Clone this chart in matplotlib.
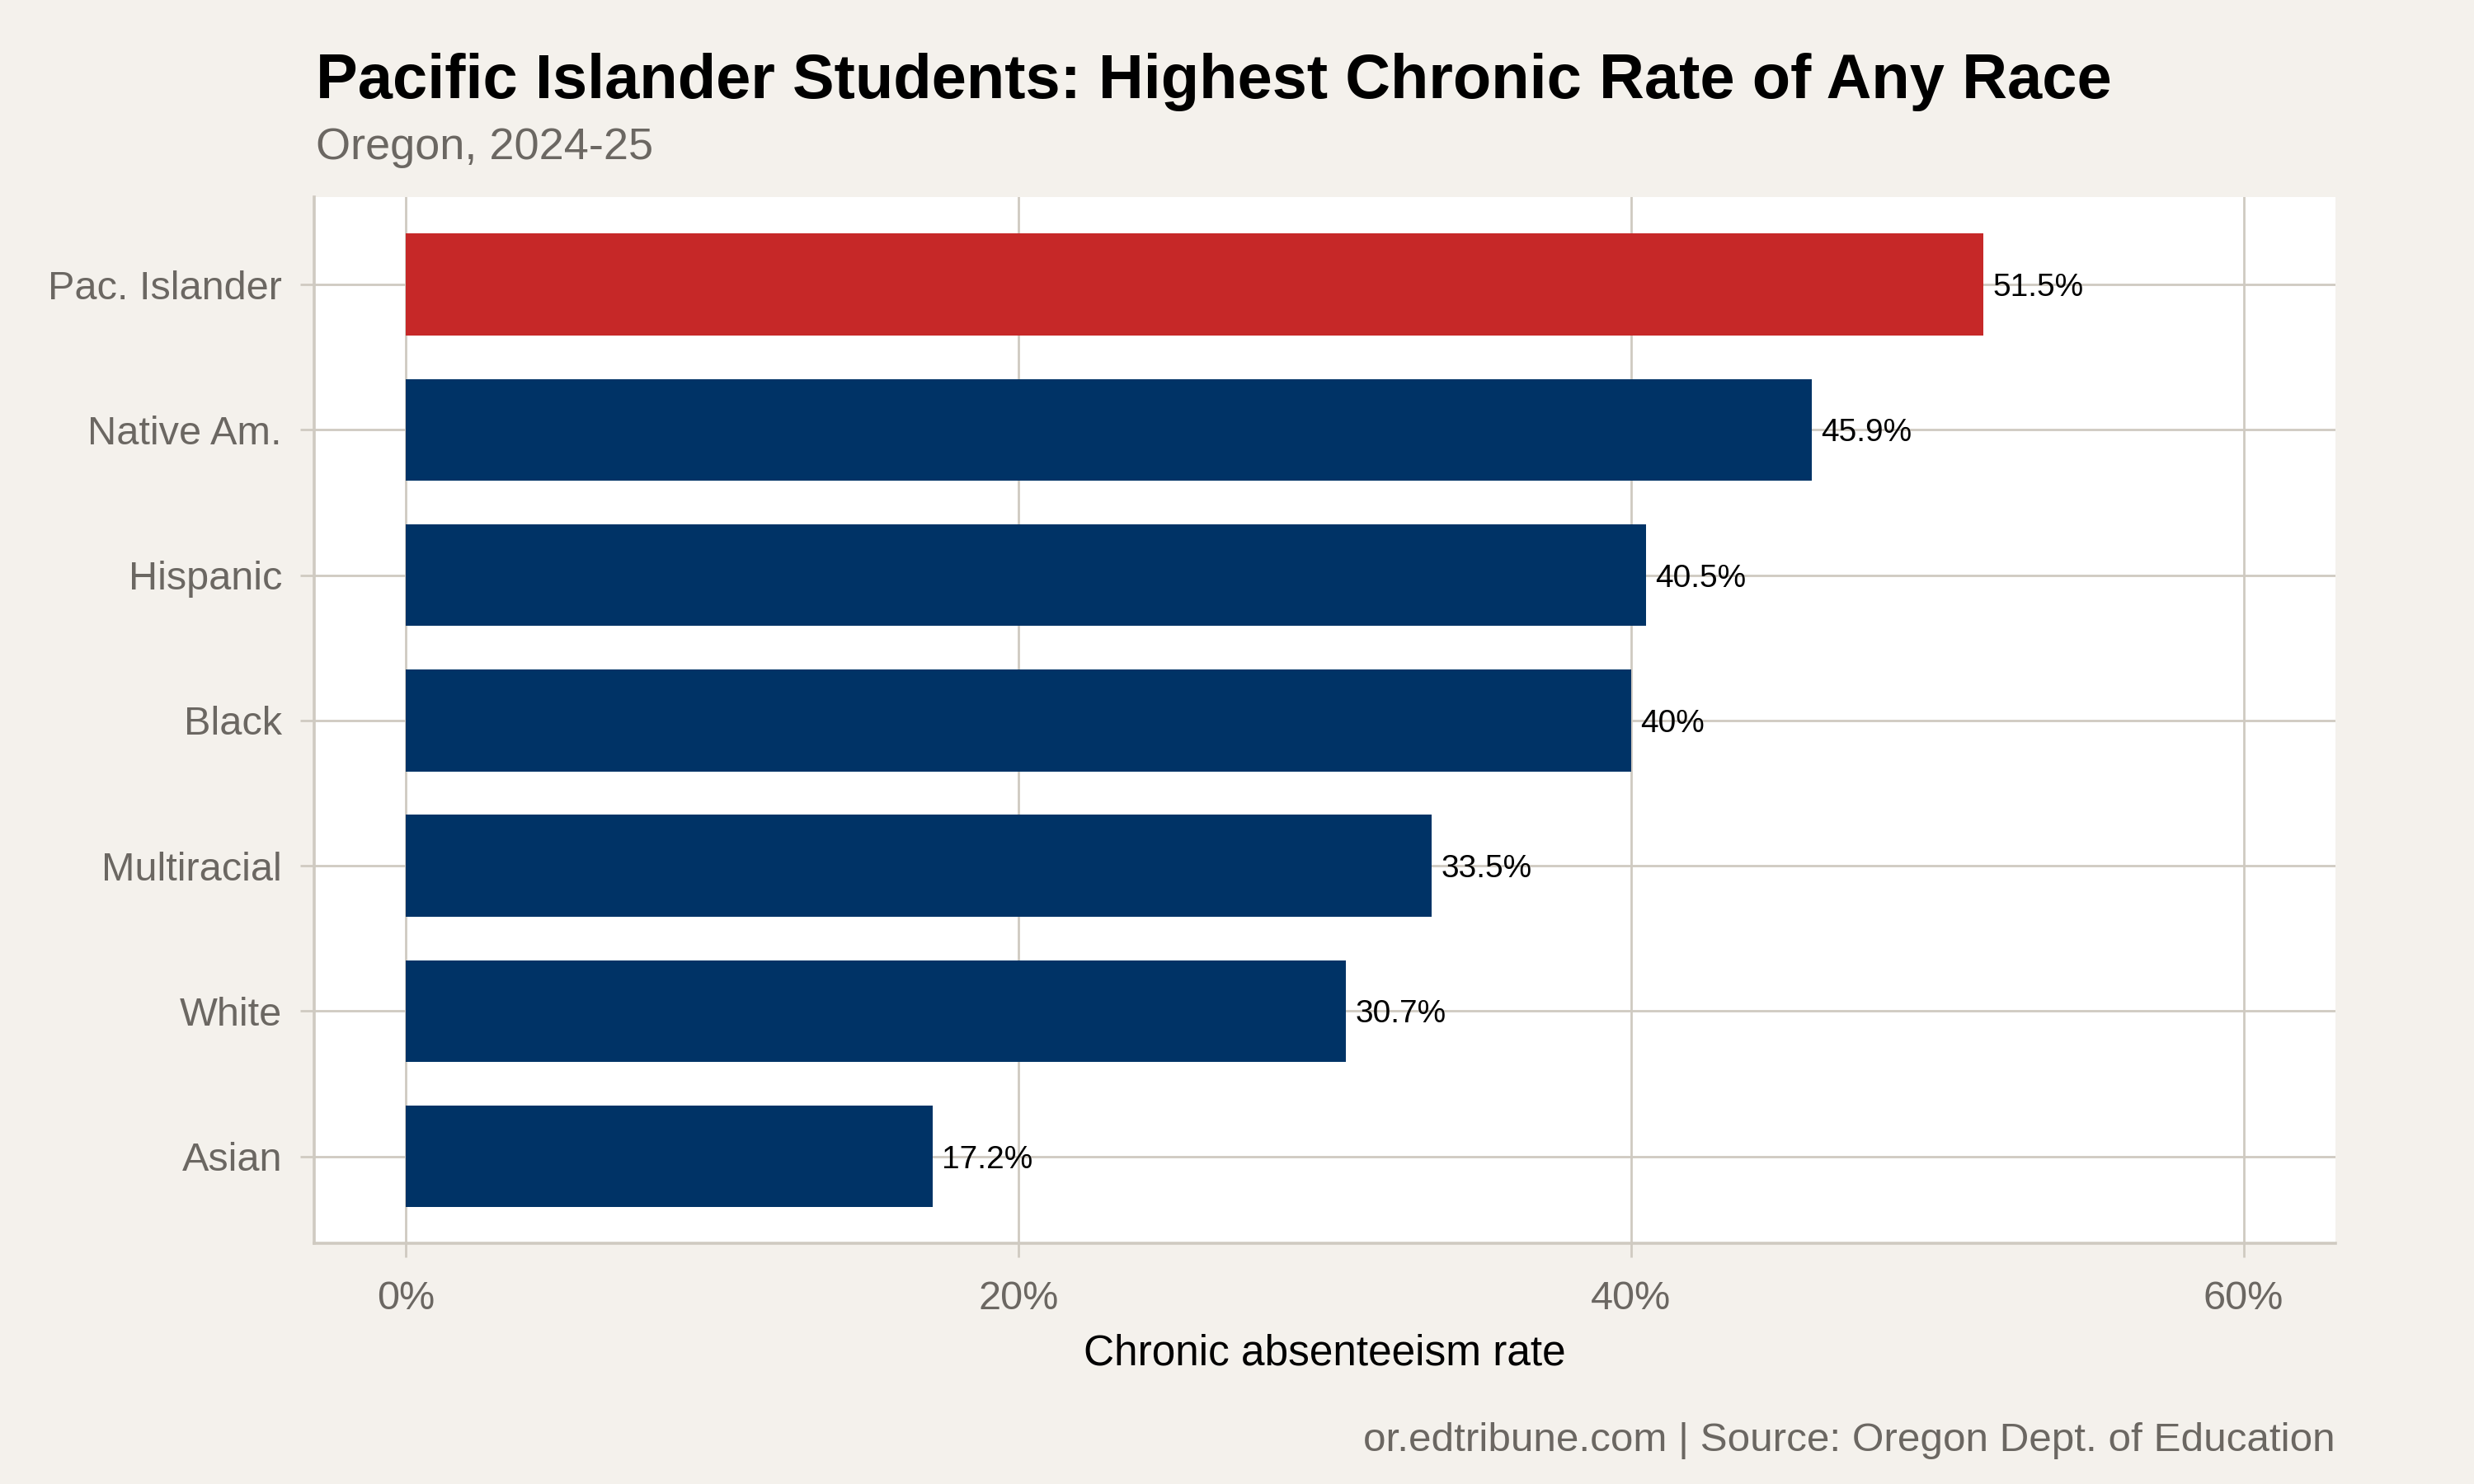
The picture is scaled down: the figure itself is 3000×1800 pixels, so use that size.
import matplotlib
matplotlib.use("Agg")
import matplotlib.pyplot as plt
from matplotlib.ticker import FuncFormatter

plt.rcParams['font.family'] = ['Liberation Sans', 'DejaVu Sans']

# data, top to bottom as shown
groups = ["Pac. Islander", "Native Am.", "Hispanic", "Black", "Multiracial", "White", "Asian"]
rates = [51.5, 45.9, 40.5, 40.0, 33.5, 30.7, 17.2]
labels = ["51.5%", "45.9%", "40.5%", "40%", "33.5%", "30.7%", "17.2%"]
highlight = "Pac. Islander"

bg = "#f4f1ec"
grid_col = "#cfcac1"
grey_txt = "#6b6762"
red = "#c62828"
navy = "#003366"

fig = plt.figure(figsize=(15, 9), dpi=200, facecolor=bg)
ax = fig.add_axes([0.127, 0.162, 0.817, 0.705])
ax.set_facecolor("white")

ypos = list(range(len(groups)))
colors = [red if g == highlight else navy for g in groups]
ax.barh(ypos, rates, height=0.7, color=colors, zorder=3)

for y, v, lab in zip(ypos, rates, labels):
    ax.annotate(lab, (v, y), xytext=(4, 0), textcoords="offset points",
                ha="left", va="center_baseline", fontsize=14, color="black", zorder=4)

ax.set_xlim(-3, 63)
ax.set_ylim(len(groups) - 0.4, -0.6)
ax.set_xticks([0, 20, 40, 60])
ax.xaxis.set_major_formatter(FuncFormatter(lambda v, p: f"{v:.0f}%"))
ax.set_yticks(ypos)
ax.set_yticklabels(groups)

ax.grid(True, color=grid_col, linewidth=1.0, zorder=0)
for side in ["top", "right"]:
    ax.spines[side].set_visible(False)
for side in ["left", "bottom"]:
    ax.spines[side].set_color(grid_col)
    ax.spines[side].set_linewidth(1.3)

ax.tick_params(axis="both", colors=grid_col, length=6, width=1.0, labelcolor=grey_txt, labelsize=17.5)
ax.tick_params(axis="x", pad=10)
ax.tick_params(axis="y", pad=8)

ax.set_xlabel("Chronic absenteeism rate", fontsize=18.5, color="black", labelpad=7)

fig.text(0.1276, 0.934, "Pacific Islander Students: Highest Chronic Rate of Any Race",
         fontsize=27.3, fontweight="bold", color="black", ha="left", va="baseline")
fig.text(0.1276, 0.893, "Oregon, 2024-25", fontsize=19.5, color=grey_txt, ha="left", va="baseline")
fig.text(0.944, 0.022, "or.edtribune.com | Source: Oregon Dept. of Education",
         fontsize=17.8, color=grey_txt, ha="right", va="baseline")

fig.savefig("out.png", dpi=200, facecolor=bg)
